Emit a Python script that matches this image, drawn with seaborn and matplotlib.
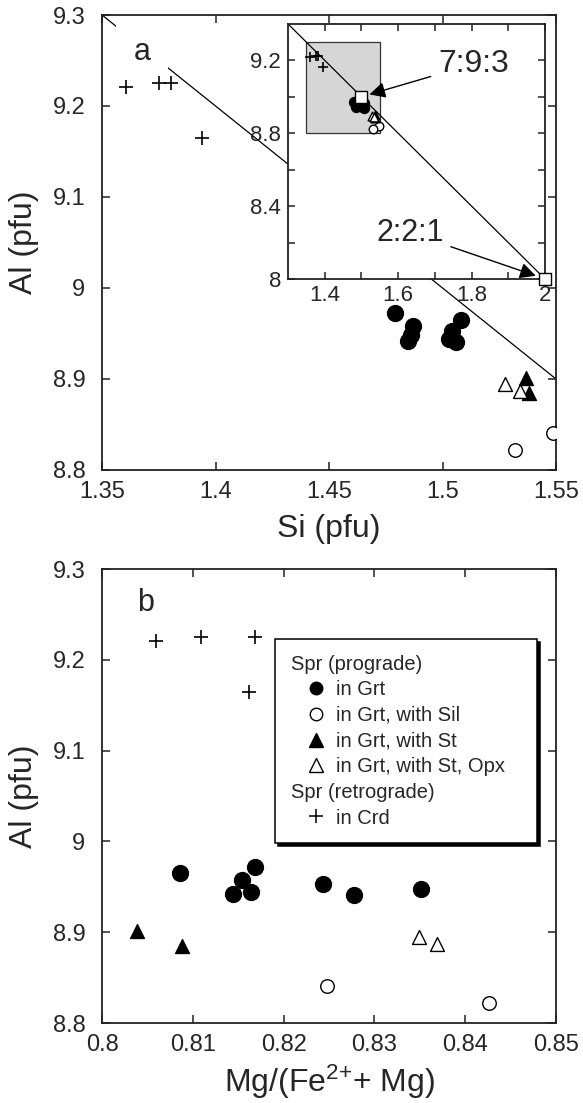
import numpy as np
import pandas as pd
import matplotlib
matplotlib.use("Agg")
import matplotlib.pyplot as plt
import seaborn as sns
from matplotlib.lines import Line2D
from matplotlib.patches import Rectangle

# ---------------- data ----------------
grt_si = [1.479, 1.508, 1.487, 1.504, 1.486, 1.503, 1.485, 1.506]
grt_al = [8.972, 8.965, 8.958, 8.953, 8.948, 8.944, 8.942, 8.941]
grt_mg = [0.8169, 0.8086, 0.8154, 0.8243, 0.8351, 0.8164, 0.8144, 0.8278]

sil_si = [1.5485, 1.532]
sil_al = [8.841, 8.822]
sil_mg = [0.8248, 0.8426]

st_si = [1.537, 1.538]
st_al = [8.901, 8.885]
st_mg = [0.8039, 0.8088]

opx_si = [1.5275, 1.534]
opx_al = [8.895, 8.887]
opx_mg = [0.8349, 0.8369]

crd_si = [1.3606, 1.3752, 1.3805, 1.394]
crd_al = [9.221, 9.225, 9.225, 9.165]
crd_mg = [0.8059, 0.8109, 0.8169, 0.8162]

ideal_labels = ["7:9:3", "2:2:1"]
ideal_si = [1.5, 2.0]
ideal_al = [9.0, 8.0]

legend_headers = ["Spr (prograde)", "Spr (retrograde)"]
group_labels = ["in Grt", "in Grt, with Sil", "in Grt, with St",
                "in Grt, with St, Opx", "in Crd"]

a_xticks = [1.35, 1.4, 1.45, 1.5, 1.55]
a_xticklabels = ["1.35", "1.4", "1.45", "1.5", "1.55"]
al_ticks = [8.8, 8.9, 9.0, 9.1, 9.2, 9.3]
al_ticklabels = ["8.8", "8.9", "9", "9.1", "9.2", "9.3"]
b_xticks = [0.8, 0.81, 0.82, 0.83, 0.84, 0.85]
b_xticklabels = ["0.8", "0.81", "0.82", "0.83", "0.84", "0.85"]
in_xticks = [1.4, 1.5, 1.6, 1.7, 1.8, 1.9, 2.0]
in_xticklabels = ["1.4", "", "1.6", "", "1.8", "", "2"]
in_yticks = [8.0, 8.2, 8.4, 8.6, 8.8, 9.0, 9.2]
in_yticklabels = ["8", "", "8.4", "", "8.8", "", "9.2"]

# ---------------- frames ----------------
def frame(si, al, mg, label):
    return pd.DataFrame({"Si": si, "Al": al, "Mg": mg, "group": label})

df = pd.concat([
    frame(grt_si, grt_al, grt_mg, group_labels[0]),
    frame(sil_si, sil_al, sil_mg, group_labels[1]),
    frame(st_si, st_al, st_mg, group_labels[2]),
    frame(opx_si, opx_al, opx_mg, group_labels[3]),
    frame(crd_si, crd_al, crd_mg, group_labels[4]),
], ignore_index=True)
ideal = pd.DataFrame({"Si": ideal_si, "Al": ideal_al, "label": ideal_labels})

styles = {
    group_labels[0]: dict(marker="o", fc="black", ec="black", s=135, lw=0.8),
    group_labels[1]: dict(marker="o", fc="white", ec="black", s=95, lw=1.0),
    group_labels[2]: dict(marker="^", fc="black", ec="black", s=105, lw=0.8),
    group_labels[3]: dict(marker="^", fc="white", ec="black", s=100, lw=1.0),
    group_labels[4]: dict(marker="+", fc="black", ec="black", s=115, lw=1.2),
}

# ---------------- style ----------------
sns.set_theme(style="ticks")
plt.rcParams["font.family"] = ["Liberation Sans", "DejaVu Sans"]
plt.rcParams["mathtext.fontset"] = "custom"
plt.rcParams["mathtext.rm"] = "Liberation Sans"
plt.rcParams["mathtext.it"] = "Liberation Sans:italic"
plt.rcParams["mathtext.bf"] = "Liberation Sans:bold"
plt.rcParams["axes.linewidth"] = 1.3
plt.rcParams["axes.edgecolor"] = "#222222"

fig = plt.figure(figsize=(5.83, 11.03), dpi=100)
ax_a = fig.add_axes([0.175, 0.5739, 0.7787, 0.4125])
ax_b = fig.add_axes([0.175, 0.0725, 0.7787, 0.4116])
ax_in = fig.add_axes([0.494, 0.7471, 0.4408, 0.2312], zorder=5)


def draw_groups(ax, xcol, scale=1.0):
    for g in group_labels:
        st = styles[g]
        sub = df[df["group"] == g]
        if st["marker"] == "+":
            sns.scatterplot(data=sub, x=xcol, y="Al", ax=ax, marker="+",
                            color="black", s=st["s"] * scale,
                            linewidth=st["lw"], zorder=4, legend=False)
        else:
            sns.scatterplot(data=sub, x=xcol, y="Al", ax=ax, marker=st["marker"],
                            facecolor=st["fc"], edgecolor=st["ec"],
                            s=st["s"] * scale, linewidth=st["lw"], zorder=4,
                            legend=False)


def style_axes(ax, xt, xtl, yt, ytl, xlim, ylim, fs=17, xpad=8, ypad=12, length=6):
    ax.set_xlim(*xlim)
    ax.set_ylim(*ylim)
    ax.set_xticks(xt)
    ax.set_xticklabels(xtl)
    ax.set_yticks(yt)
    ax.set_yticklabels(ytl)
    ax.tick_params(direction="in", top=True, right=True, length=length,
                   width=1.1, labelsize=fs, color="#222222")
    ax.tick_params(axis="x", pad=xpad)
    ax.tick_params(axis="y", pad=ypad)
    ax.minorticks_off()


# ---------------- panel a ----------------
ax_a.axline((ideal_si[0], ideal_al[0]), (ideal_si[1], ideal_al[1]),
            color="black", lw=0.9, zorder=1)
draw_groups(ax_a, "Si")
style_axes(ax_a, a_xticks, a_xticklabels, al_ticks, al_ticklabels,
           (1.35, 1.55), (8.8, 9.3))
ax_a.set_xlabel("Si (pfu)", fontsize=23)
ax_a.set_ylabel("Al (pfu)", fontsize=23)
ax_a.xaxis.set_label_coords(0.5, -0.097)
ax_a.yaxis.set_label_coords(-0.138, 0.5)
ax_a.text(0.088, 0.919, "a", transform=ax_a.transAxes, fontsize=22,
          ha="center", va="center", zorder=2,
          bbox=dict(boxstyle="square,pad=0.58", fc="white", ec="none"))

# ---------------- inset ----------------
xa0, xa1 = ax_a.get_xlim()
ya0, ya1 = ax_a.get_ylim()
ax_in.add_patch(Rectangle((xa0, ya0), xa1 - xa0, ya1 - ya0, facecolor="#d6d6d6",
                          edgecolor="#333333", lw=0.9, zorder=1))
ax_in.axline((ideal_si[0], ideal_al[0]), (ideal_si[1], ideal_al[1]),
             color="black", lw=0.9, zorder=2)
draw_groups(ax_in, "Si", scale=0.4)
sns.scatterplot(data=ideal, x="Si", y="Al", ax=ax_in, marker="s",
                facecolor="white", edgecolor="black", s=80, linewidth=1.0,
                zorder=6, legend=False, clip_on=False)
style_axes(ax_in, in_xticks, in_xticklabels, in_yticks, in_yticklabels,
           (1.3, 2.0), (8.0, 9.4), fs=16, xpad=4, ypad=5, length=5)
ax_in.set_xlabel("")
ax_in.set_ylabel("")
ax_in.set_facecolor("white")
ax_in.annotate(ideal_labels[0], xy=(ideal_si[0], ideal_al[0]), xytext=(1.805, 9.18),
               fontsize=23, ha="center", va="center",
               arrowprops=dict(arrowstyle="-|>", color="black", lw=1.0,
                               mutation_scale=24, shrinkA=3, shrinkB=6))
ax_in.annotate(ideal_labels[1], xy=(ideal_si[1], ideal_al[1]), xytext=(1.632, 8.254),
               fontsize=22, ha="center", va="center",
               arrowprops=dict(arrowstyle="-|>", color="black", lw=1.0,
                               mutation_scale=24, shrinkA=3, shrinkB=7))

# ---------------- panel b ----------------
draw_groups(ax_b, "Mg")
style_axes(ax_b, b_xticks, b_xticklabels, al_ticks, al_ticklabels,
           (0.8, 0.85), (8.8, 9.3))
ax_b.set_xlabel("Mg/(Fe$^{2{+}}$+ Mg)", fontsize=23)
ax_b.set_ylabel("Al (pfu)", fontsize=23)
ax_b.xaxis.set_label_coords(0.5, -0.088)
ax_b.yaxis.set_label_coords(-0.138, 0.5)
ax_b.text(0.095, 0.925, "b", transform=ax_b.transAxes, fontsize=22,
          ha="center", va="center")

# legend
def handle_for(g):
    st = styles[g]
    if st["marker"] == "+":
        return Line2D([], [], ls="none", marker="+", color="black",
                      markersize=10.5, markeredgewidth=1.1)
    return Line2D([], [], ls="none", marker=st["marker"], markerfacecolor=st["fc"],
                  markeredgecolor=st["ec"], markersize=9 if st["marker"] == "o" else 9.5,
                  markeredgewidth=1.0)

blank = Line2D([], [], ls="none", marker="")
handles = [blank] + [handle_for(g) for g in group_labels[:4]] + [blank, handle_for(group_labels[4])]
labels = [legend_headers[0]] + group_labels[:4] + [legend_headers[1], group_labels[4]]
leg = ax_b.legend(handles, labels, loc="upper left",
                  bbox_to_anchor=(0.381, 0.394, 0.578, 0.452), mode="expand",
                  borderaxespad=0, fontsize=14.5, frameon=True, fancybox=False,
                  framealpha=1, edgecolor="black",
                  shadow={"color": "black", "alpha": 1},
                  handlelength=2.5, handletextpad=-0.25, labelspacing=0.33,
                  borderpad=0.78)
leg.get_frame().set_linewidth(1.1)
header_rows = {0, 5}
for col in leg._legend_handle_box.get_children():
    for i, row in enumerate(col.get_children()):
        if i in header_rows:
            kids = row.get_children()
            kids.pop(0)

fig.savefig("out.png", dpi=100)
